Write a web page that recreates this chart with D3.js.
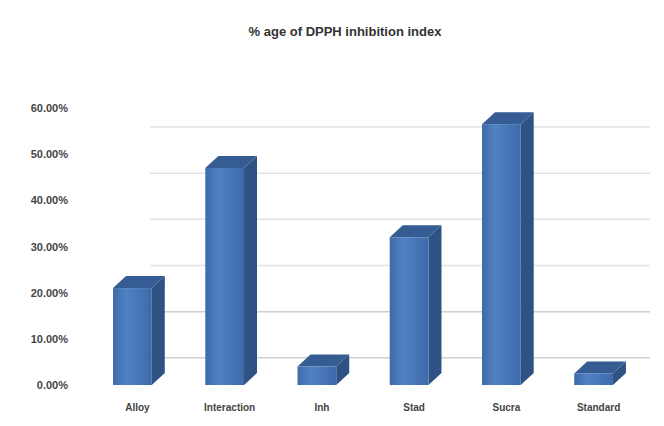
<!DOCTYPE html>
<html>
  <head>
    <meta charset="utf-8" />
    <title>DPPH inhibition</title>
    <script src="https://d3js.org/d3.v7.min.js"></script>
    <style>
      body { margin: 0; background: #fff; }
      svg { display: block; }
    </style>
  </head>
  <body>
    <svg width="664" height="426" id="chart"></svg>
    <script>
      // data
      const categories = ["Alloy", "Interaction", "Inh", "Stad", "Sucra", "Standard"];
      const values = [0.21, 0.47, 0.04, 0.32, 0.565, 0.025];
      const tickValues = [0, 0.1, 0.2, 0.3, 0.4, 0.5, 0.6];

      const svg = d3.select("#chart");
      const depthX = 13, depthY = -12;

      const x = d3.scaleBand()
        .domain(categories)
        .range([78, 648])
        .paddingInner(0.58)
        .paddingOuter(0.38);

      const y = d3.scaleLinear()
        .domain([0, 0.6])
        .range([385, 108]);

      // title
      svg.append("text")
        .attr("x", 345)
        .attr("y", 36)
        .attr("text-anchor", "middle")
        .attr("font-family", "Liberation Sans, Arial, sans-serif")
        .attr("font-size", 13)
        .attr("font-weight", "bold")
        .attr("fill", "#333")
        .text("% age of DPPH inhibition index");

      // back wall gridlines
      svg.append("g")
        .selectAll("line")
        .data(tickValues.slice(1))
        .join("line")
        .attr("x1", 150)
        .attr("x2", 650)
        .attr("y1", d => y(d) + 19)
        .attr("y2", d => y(d) + 19)
        .attr("stroke", d => d <= 0.2 ? "#cfcfcf" : "#e2e2e2")
        .attr("stroke-width", 1.5);

      // y axis labels
      const yAxis = d3.axisLeft(y)
        .tickValues(tickValues)
        .tickFormat(d3.format(".2%"))
        .tickSize(0)
        .tickPadding(0);

      svg.append("g")
        .attr("transform", "translate(68,0)")
        .call(yAxis)
        .call(g => g.select(".domain").remove())
        .call(g => g.selectAll("text")
          .attr("font-family", "Liberation Sans, Arial, sans-serif")
          .attr("font-size", 11)
          .attr("font-weight", "bold")
          .attr("fill", "#444"));

      // x axis labels
      const xAxis = d3.axisBottom(x).tickSize(0).tickPadding(0);
      svg.append("g")
        .attr("transform", "translate(5,404)")
        .call(xAxis)
        .call(g => g.select(".domain").remove())
        .call(g => g.selectAll("text")
          .attr("font-family", "Liberation Sans, Arial, sans-serif")
          .attr("font-size", 10)
          .attr("font-weight", "bold")
          .attr("fill", "#444"));

      // gradient for the front face
      const defs = svg.append("defs");
      const grad = defs.append("linearGradient")
        .attr("id", "front")
        .attr("x1", "0%").attr("x2", "100%");
      grad.append("stop").attr("offset", "0%").attr("stop-color", "#3f6aa6");
      grad.append("stop").attr("offset", "35%").attr("stop-color", "#4f82c4");
      grad.append("stop").attr("offset", "100%").attr("stop-color", "#3e69a8");

      const bars = svg.append("g")
        .selectAll("g")
        .data(categories.map((c, i) => ({ cat: c, v: values[i] })))
        .join("g");

      // right side
      bars.append("path")
        .attr("d", d => {
          const x1 = x(d.cat) + x.bandwidth();
          const y0 = y(0), y1 = y(d.v);
          return `M${x1},${y0} L${x1 + depthX},${y0 + depthY} L${x1 + depthX},${y1 + depthY} L${x1},${y1} Z`;
        })
        .attr("fill", "#2f5284");

      // top
      bars.append("path")
        .attr("d", d => {
          const x0 = x(d.cat), x1 = x0 + x.bandwidth();
          const y1 = y(d.v);
          return `M${x0},${y1} L${x0 + depthX},${y1 + depthY} L${x1 + depthX},${y1 + depthY} L${x1},${y1} Z`;
        })
        .attr("fill", "#355d93");

      // front
      bars.append("rect")
        .attr("x", d => x(d.cat))
        .attr("y", d => y(d.v))
        .attr("width", x.bandwidth())
        .attr("height", d => y(0) - y(d.v))
        .attr("fill", "url(#front)");
    </script>
  </body>
</html>
